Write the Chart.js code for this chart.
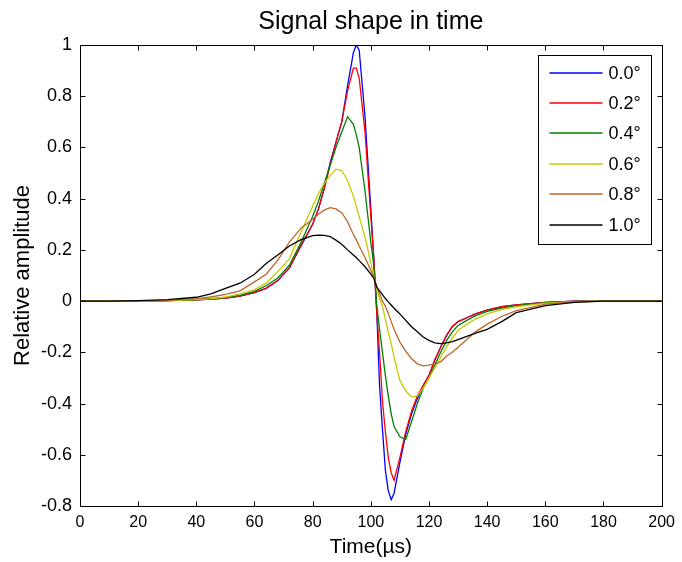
<!DOCTYPE html>
<html>
<head>
<meta charset="utf-8">
<title>Signal shape in time</title>
<script src="https://cdn.jsdelivr.net/npm/chart.js@4.4.1/dist/chart.umd.min.js"></script>
<style>
    html, body { margin: 0; padding: 0; background: #fff; }
    #wrap { width: 682px; height: 562px; }
</style>
</head>
<body>
<div id="wrap"><canvas id="signal-chart" width="682" height="562"></canvas></div>
<script>
// time axis (µs) shared by every curve
const time = [0, 10, 20, 30, 40, 45, 50, 55, 60, 64, 68, 72, 76, 80, 82, 84, 86, 88, 90, 92, 94, 95, 96, 98,
    100, 101, 102, 103, 104, 105, 106, 107, 108, 110, 112, 114, 116, 118, 120, 122, 124, 126, 128, 130,
    133, 136, 140, 145, 150, 160, 170, 180, 190, 200];

// relative amplitude, one array per angle
const amp00 = [0, 0, 0, 0.002, 0.005, 0.008, 0.012, 0.02, 0.033, 0.05, 0.08, 0.13, 0.215, 0.30, 0.36, 0.44, 0.54, 0.62, 0.70, 0.84, 0.97, 1.0, 0.98, 0.72,
    0.36, 0.17, -0.03, -0.33, -0.50, -0.66, -0.74, -0.775, -0.75, -0.63, -0.52, -0.44, -0.38, -0.33, -0.29, -0.23, -0.18, -0.135, -0.10, -0.08,
    -0.065, -0.05, -0.035, -0.022, -0.015, -0.005, 0, 0, 0, 0];
const amp02 = [0, 0, 0, 0.002, 0.005, 0.008, 0.012, 0.02, 0.034, 0.05, 0.08, 0.13, 0.22, 0.30, 0.36, 0.44, 0.53, 0.62, 0.70, 0.82, 0.91, 0.91, 0.87, 0.66,
    0.33, 0.17, -0.04, -0.20, -0.39, -0.51, -0.61, -0.67, -0.70, -0.61, -0.51, -0.43, -0.37, -0.33, -0.29, -0.23, -0.18, -0.135, -0.10, -0.08,
    -0.065, -0.05, -0.035, -0.022, -0.015, -0.005, 0, 0, 0, 0];
const amp04 = [0, 0, 0, 0.002, 0.005, 0.009, 0.014, 0.022, 0.038, 0.06, 0.09, 0.14, 0.23, 0.33, 0.39, 0.46, 0.53, 0.60, 0.66, 0.72, 0.69, 0.65, 0.60, 0.43,
    0.23, 0.14, -0.01, -0.11, -0.20, -0.29, -0.37, -0.44, -0.49, -0.53, -0.54, -0.47, -0.40, -0.34, -0.30, -0.25, -0.20, -0.155, -0.12, -0.095,
    -0.075, -0.057, -0.04, -0.027, -0.018, -0.006, -0.001, 0, 0, 0];
const amp06 = [0, 0, 0, 0.002, 0.006, 0.01, 0.016, 0.028, 0.045, 0.07, 0.115, 0.165, 0.27, 0.37, 0.42, 0.46, 0.49, 0.515, 0.51, 0.47, 0.41, 0.37, 0.33, 0.25,
    0.15, 0.10, 0.05, 0.01, -0.02, -0.07, -0.12, -0.165, -0.22, -0.31, -0.35, -0.375, -0.37, -0.34, -0.30, -0.26, -0.22, -0.18, -0.145, -0.115,
    -0.09, -0.07, -0.05, -0.033, -0.022, -0.008, -0.002, 0, 0, 0];
const amp08 = [0, 0, 0, 0.003, 0.01, 0.016, 0.026, 0.04, 0.075, 0.105, 0.16, 0.23, 0.285, 0.32, 0.34, 0.355, 0.365, 0.36, 0.345, 0.31, 0.26, 0.24, 0.215, 0.17,
    0.12, 0.095, 0.06, 0.03, 0.0, -0.02, -0.048, -0.08, -0.11, -0.16, -0.195, -0.225, -0.245, -0.253, -0.25, -0.245, -0.237, -0.215, -0.20, -0.18,
    -0.15, -0.12, -0.09, -0.06, -0.037, -0.012, -0.003, 0, 0, 0];
const amp10 = [0, 0, 0.002, 0.006, 0.015, 0.028, 0.05, 0.07, 0.105, 0.147, 0.18, 0.215, 0.24, 0.256, 0.258, 0.257, 0.252, 0.238, 0.222, 0.20, 0.18, 0.17, 0.158, 0.134,
    0.105, 0.09, 0.055, 0.04, 0.025, 0.01, -0.003, -0.015, -0.028, -0.05, -0.075, -0.10, -0.12, -0.14, -0.153, -0.163, -0.166, -0.163, -0.158, -0.15,
    -0.138, -0.125, -0.11, -0.08, -0.045, -0.018, -0.005, 0, 0, 0];

const seriesLabels = ['0.0°', '0.2°', '0.4°', '0.6°', '0.8°', '1.0°'];
const seriesValues = [amp00, amp02, amp04, amp06, amp08, amp10];
const seriesColors = ['#0000ff', '#ff0000', '#008000', '#c8c800', '#c0642a', '#000000'];

const xTicks = [0, 20, 40, 60, 80, 100, 120, 140, 160, 180, 200];
const yTicks = [-0.8, -0.6, -0.4, -0.2, 0, 0.2, 0.4, 0.6, 0.8, 1];

const chartTitle = 'Signal shape in time';

Chart.defaults.font.family = "'Liberation Sans', Arial, sans-serif";
Chart.defaults.color = '#000';

// MATLAB style: title centred on the axes, boxed axes, inward ticks, legend box in the upper right
const matlabFrame = {
    id: 'matlabFrame',
    afterDatasetsDraw(chart) {
        const { ctx, chartArea: a, scales: { x, y } } = chart;
        const L = Math.round(a.left) + 0.5, R = Math.round(a.right) + 0.5;
        const T = Math.round(a.top) + 0.5, B = Math.round(a.bottom) + 0.5;
        ctx.save();
        ctx.strokeStyle = '#000';
        ctx.lineWidth = 1;
        ctx.beginPath();
        xTicks.forEach(function (v) {
            const px = Math.round(x.getPixelForValue(v)) + 0.5;
            ctx.moveTo(px, B); ctx.lineTo(px, B - 5);
            ctx.moveTo(px, T); ctx.lineTo(px, T + 5);
        });
        yTicks.forEach(function (v) {
            const py = Math.round(y.getPixelForValue(v)) + 0.5;
            ctx.moveTo(L, py); ctx.lineTo(L + 5, py);
            ctx.moveTo(R, py); ctx.lineTo(R - 5, py);
        });
        ctx.stroke();
        ctx.strokeRect(L, T, R - L, B - T);

        // title
        ctx.fillStyle = '#000';
        ctx.font = "25px 'Liberation Sans', Arial, sans-serif";
        ctx.textAlign = 'center';
        ctx.textBaseline = 'alphabetic';
        ctx.fillText(chartTitle, (a.left + a.right) / 2, 29);

        // legend
        const bw = 113, bh = 189;
        const bx = Math.round(a.right) - 11 - bw + 0.5, by = Math.round(a.top) + 10 + 0.5;
        ctx.fillStyle = '#fff';
        ctx.fillRect(bx, by, bw, bh);
        ctx.strokeRect(bx, by, bw, bh);
        ctx.font = "18px 'Liberation Sans', Arial, sans-serif";
        ctx.textAlign = 'left';
        ctx.textBaseline = 'middle';
        seriesLabels.forEach(function (label, i) {
            const ly = Math.round(by + 17 + i * 30.4);
            ctx.strokeStyle = seriesColors[i];
            ctx.lineWidth = 1.4;
            ctx.beginPath();
            ctx.moveTo(bx + 11, ly);
            ctx.lineTo(bx + 64, ly);
            ctx.stroke();
            ctx.fillStyle = '#000';
            ctx.fillText(label, bx + 70, ly + 1);
        });
        ctx.restore();
    }
};

const datasets = seriesLabels.map(function (label, i) {
    return {
        label: label,
        data: time.map(function (t, k) { return { x: t, y: seriesValues[i][k] }; }),
        borderColor: seriesColors[i],
        backgroundColor: seriesColors[i],
        borderWidth: 1.3,
        pointRadius: 0,
        tension: 0,
        fill: false,
        order: seriesLabels.length - i
    };
});

new Chart(document.getElementById('signal-chart'), {
    type: 'line',
    data: { datasets: datasets },
    options: {
        responsive: false,
        animation: false,
        devicePixelRatio: 1,
        layout: { padding: { top: 45, left: 0, right: 15, bottom: 0 } },
        plugins: {
            legend: { display: false },
            tooltip: { enabled: false },
            title: { display: false }
        },
        scales: {
            x: {
                type: 'linear',
                min: 0,
                max: 200,
                afterBuildTicks: function (scale) { scale.ticks = xTicks.map(function (v) { return { value: v }; }); },
                afterFit: function (scale) { scale.height = 56; },
                grid: { display: false, drawTicks: false },
                border: { display: false },
                ticks: { font: { size: 16 }, color: '#000', padding: 7, maxRotation: 0 },
                title: { display: true, text: 'Time(µs)', color: '#000', font: { size: 21 }, padding: { top: 0, bottom: 2 } }
            },
            y: {
                type: 'linear',
                min: -0.8,
                max: 1,
                afterBuildTicks: function (scale) { scale.ticks = yTicks.map(function (v) { return { value: v }; }); },
                afterFit: function (scale) { scale.width = 80; },
                grid: { display: false, drawTicks: false },
                border: { display: false },
                ticks: {
                    font: { size: 18 },
                    color: '#000',
                    padding: 8,
                    callback: function (v) { return (Math.round(v * 10) / 10).toString(); }
                },
                title: { display: true, text: 'Relative amplitude', color: '#000', font: { size: 22 }, padding: { top: 10, bottom: 0 } }
            }
        }
    },
    plugins: [matlabFrame]
});
</script>
</body>
</html>
